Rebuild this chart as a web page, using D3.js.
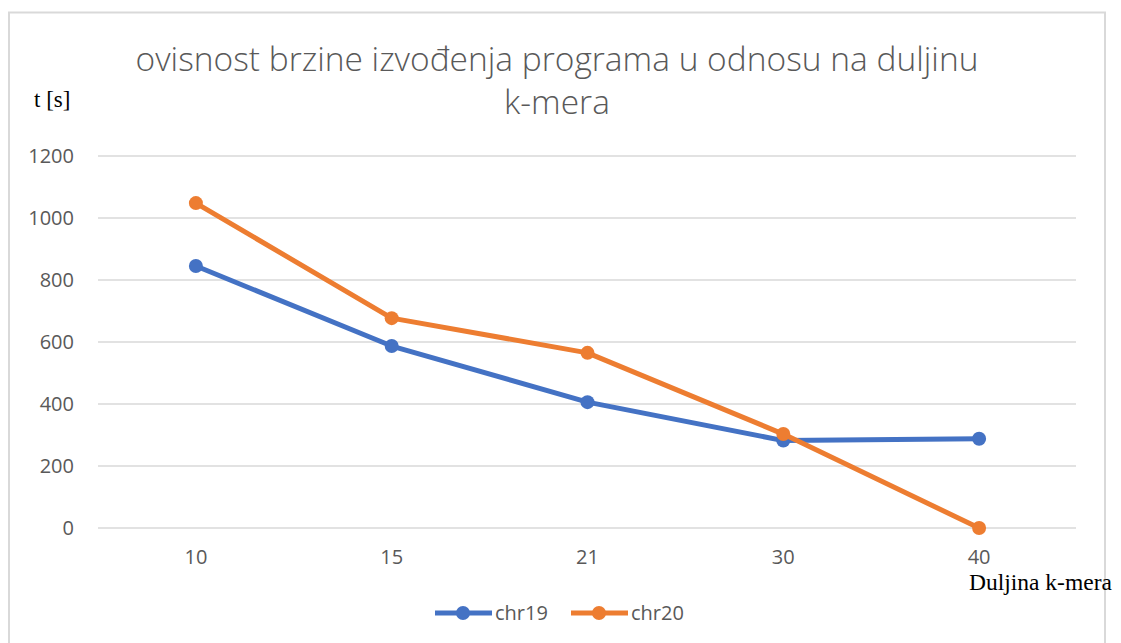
<!DOCTYPE html>
<html><head><meta charset="utf-8">
<script src="https://cdn.jsdelivr.net/npm/d3@7"></script>
<style>body{margin:0;background:#fff}svg{display:block}</style>
</head><body>
<svg id="c" width="1121" height="643"></svg>
<script>
const categories = ["10","15","21","30","40"];
const chr19 = [845, 587, 406, 282, 288];
const chr20 = [1048, 677, 565, 303, 0];
const yTicks = [0,200,400,600,800,1000,1200];
const seriesNames = ["chr19","chr20"];
const seriesColors = ["#4472c4","#ed7d31"];
const titleLines = ["ovisnost brzine izvođenja programa u odnosu na duljinu","k-mera"];

const svg = d3.select("#c");
const font = "'Open Sans', 'Noto Sans', sans-serif";
svg.append("rect").attr("x",9).attr("y",12.5).attr("width",1096).attr("height",660)
  .attr("fill","#fff").attr("stroke","#d9d9d9").attr("stroke-width",2);

const x = d3.scaleBand().domain(categories).range([98,1077]);
const y = d3.scaleLinear().domain([0,1200]).range([528,156]);

// gridlines
svg.append("g").selectAll("line").data(yTicks).join("line")
  .attr("x1",98).attr("x2",1076).attr("y1",d=>y(d)).attr("y2",d=>y(d))
  .attr("stroke","#d9d9d9").attr("stroke-width",1.5);

// y axis labels
const yAx = svg.append("g").attr("transform","translate(74,0)")
  .call(d3.axisLeft(y).tickValues(yTicks).tickFormat(d3.format("d")).tickSize(0).tickPadding(0));
yAx.select(".domain").remove();
yAx.selectAll("text").attr("font-family",font).attr("font-size",20).attr("fill","#595959");

// x axis labels
const xAx = svg.append("g").attr("transform","translate(0,550)")
  .call(d3.axisBottom(x).tickSize(0).tickPadding(0));
xAx.select(".domain").remove();
xAx.selectAll("text").attr("font-family",font).attr("font-size",20).attr("fill","#595959");

// lines
const data = [chr19, chr20];
const line = d3.line().x((d,i)=>x(categories[i])+x.bandwidth()/2).y(d=>y(d));
data.forEach((s,k)=>{
  const g = svg.append("g");
  g.append("path").datum(s).attr("d",line).attr("fill","none")
    .attr("stroke",seriesColors[k]).attr("stroke-width",5).attr("stroke-linejoin","round");
  g.selectAll("circle").data(s).join("circle")
    .attr("cx",(d,i)=>x(categories[i])+x.bandwidth()/2).attr("cy",d=>y(d))
    .attr("r",7).attr("fill",seriesColors[k]);
});

// title
svg.append("g").selectAll("text").data(titleLines).join("text")
  .attr("x",557).attr("y",(d,i)=>71+i*43).attr("text-anchor","middle")
  .attr("font-family",font).attr("font-weight",300).attr("font-size",33.5).attr("fill","#595959")
  .text(d=>d);

// axis titles
svg.append("text").attr("x",34).attr("y",107).attr("font-family","'Liberation Serif', serif")
  .attr("font-size",23).attr("fill","#000").text("t [s]");
svg.append("text").attr("x",969).attr("y",590).attr("font-family","'Liberation Serif', serif")
  .attr("font-size",23.5).attr("fill","#000").text("Duljina k-mera");

// legend
const legX = [435, 571];
seriesNames.forEach((n,k)=>{
  const g = svg.append("g").attr("transform",`translate(${legX[k]},613)`);
  g.append("line").attr("x1",0).attr("x2",57).attr("stroke",seriesColors[k]).attr("stroke-width",5);
  g.append("circle").attr("cx",28).attr("r",7).attr("fill",seriesColors[k]);
  g.append("text").attr("x",60).attr("y",7).attr("font-family",font).attr("font-size",20)
    .attr("fill","#595959").text(n);
});
</script>
</body></html>
